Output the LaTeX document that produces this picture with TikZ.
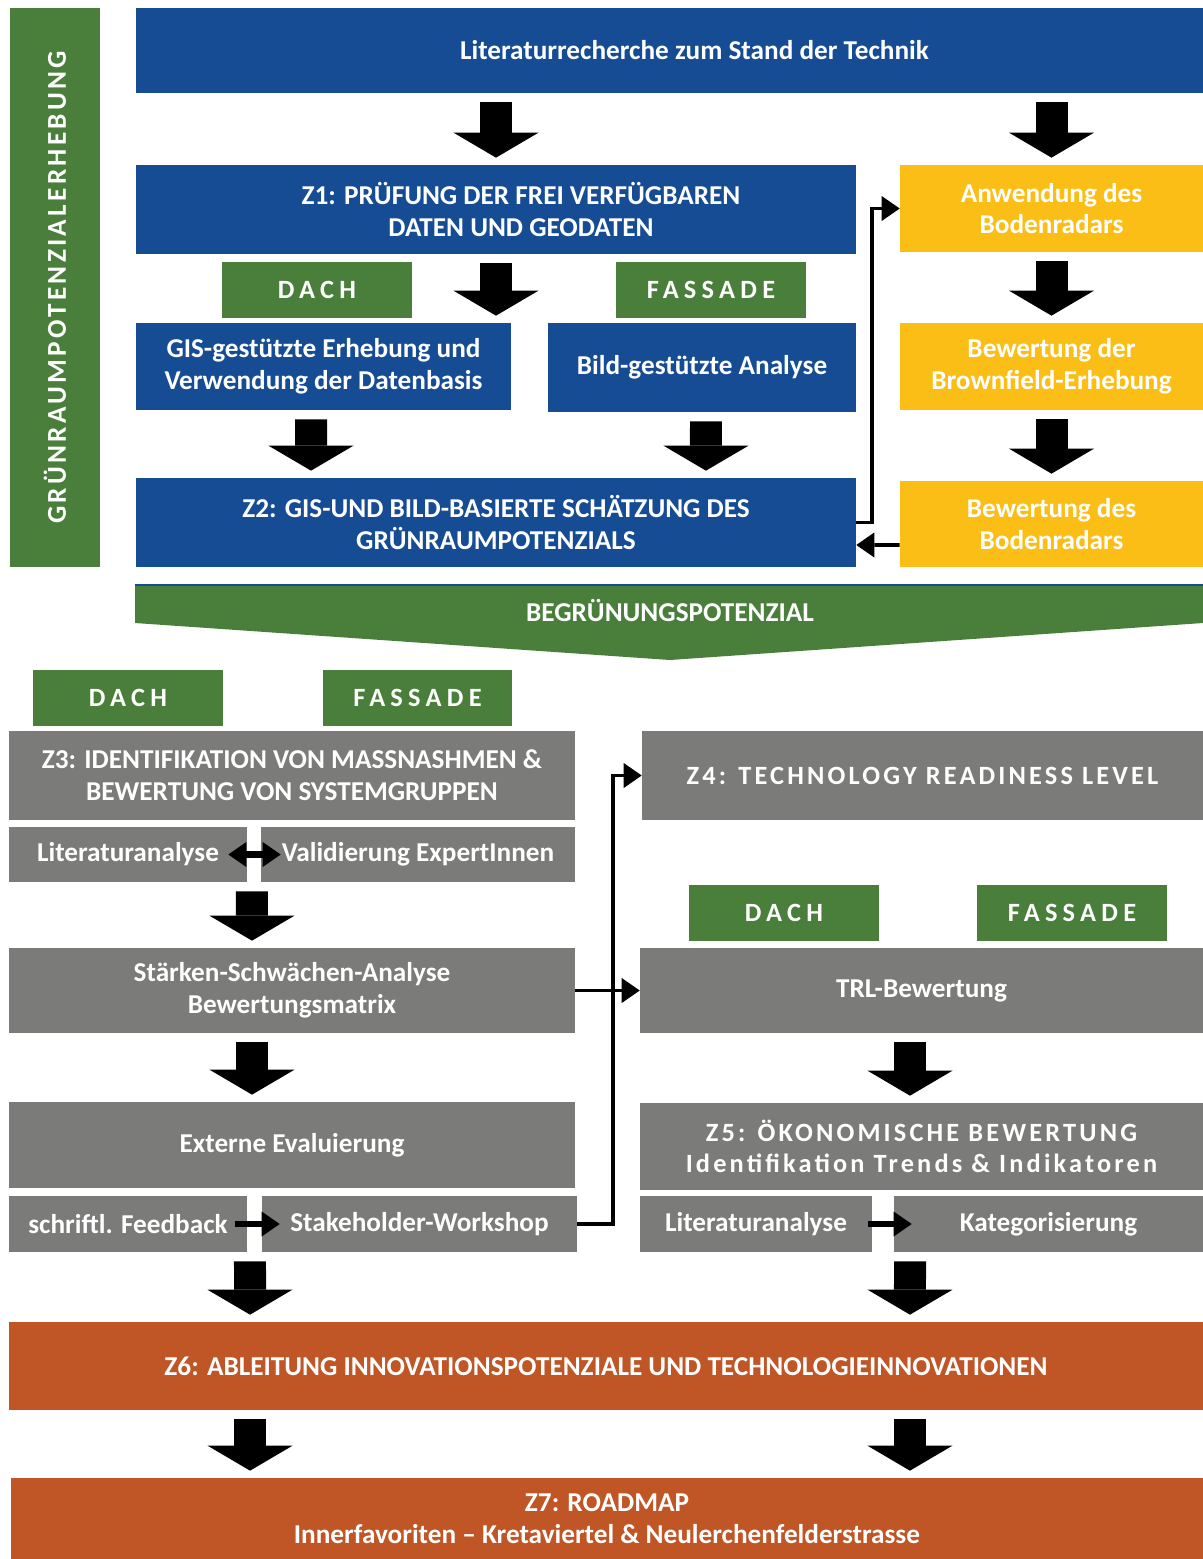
\documentclass[tikz,border=0pt]{standalone}
\usepackage{fontspec}
\setmainfont{Carlito}
\newfontfamily\spaced[LetterSpace=20]{Carlito}
\newfontfamily\wide[LetterSpace=12]{Carlito}
\usepackage{xcolor}
\usetikzlibrary{arrows.meta}

\definecolor{pblue}{RGB}{21,76,147}
\definecolor{pgreen}{RGB}{74,126,59}
\definecolor{pyellow}{RGB}{251,190,22}
\definecolor{pgray}{RGB}{123,123,121}
\definecolor{porange}{RGB}{192,85,38}

\tikzset{
  box/.style={fill=#1, text=white, font=\bfseries\fontsize{15.5}{18}\selectfont, align=center, inner sep=0pt},
  tag/.style={fill=pgreen, text=white, font=\spaced\bfseries\fontsize{15}{18}\selectfont, minimum width=3.8cm, minimum height=1.12cm, inner sep=0pt},
  Tri/.tip={Triangle[width=0.5cm,length=0.36cm,line width=0pt]},
  bigarrow/.style={line width=0.64cm, -{Triangle[width=1.7cm,length=0.5cm,line width=0pt]}, shorten <=0.18cm, shorten >=0.14cm},
  link/.style={line width=2.2pt, -Tri},
}

\begin{document}
\begin{tikzpicture}[x=0.02cm, y=-0.02cm]
    \fill[white] (0,0) rectangle (1203,1559);
    \useasboundingbox (0,0) rectangle (1203,1559);

    % side band
    \node[box=pgreen, rotate=90, minimum width=11.18cm, minimum height=1.8cm, font=\wide\bfseries\fontsize{15.5}{18}\selectfont] (band) at (55,287.5) {GRÜNRAUMPOTENZIALERHEBUNG};

    % Blue column
    \node[box=pblue, minimum width=21.34cm, minimum height=1.7cm] (lit) at (669.5,50.5) {\hspace*{1cm}Literaturrecherche zum Stand der Technik};
    \node[box=pblue, minimum width=14.4cm, minimum height=1.78cm] (z1) at (496,209.5) {\hspace*{1cm}Z1: PRÜFUNG DER FREI VERFÜGBAREN\\\hspace*{1cm}DATEN UND GEODATEN};
    \node[tag] (dachA) at (317,290) {DACH};
    \node[tag] (fassA) at (711,290) {FASSADE};
    \node[box=pblue, minimum width=7.5cm, minimum height=1.74cm] (gis) at (323.5,366.5) {GIS-gestützte Erhebung und\\Verwendung der Datenbasis};
    \node[box=pblue, minimum width=6.16cm, minimum height=1.78cm] (bild) at (702,367.5) {Bild-gestützte Analyse};
    \node[box=pblue, minimum width=14.4cm, minimum height=1.78cm] (z2) at (496,522.5) {Z2: GIS-UND BILD-BASIERTE SCHÄTZUNG DES\\GRÜNRAUMPOTENZIALS};

    % Yellow column
    \node[box=pyellow, minimum width=6.06cm, minimum height=1.74cm] (anw) at (1051.5,208.5) {Anwendung des\\Bodenradars};
    \node[box=pyellow, minimum width=6.06cm, minimum height=1.74cm] (brown) at (1051.5,366.5) {Bewertung der\\Brownfield-Erhebung};
    \node[box=pyellow, minimum width=6.06cm, minimum height=1.72cm] (boden) at (1051.5,524) {Bewertung des\\Bodenradars};

    % Arrows
    \draw[bigarrow] (lit.south -| z1.north) -- (z1.north);
    \draw[bigarrow] (lit.south -| anw.north) -- (anw.north);
    \draw[bigarrow] (z1.south) -- (z1.south |- gis.north);
    \draw[bigarrow] ([xshift=-0.25cm]gis.south) -- ([xshift=-3.7cm]z2.north);
    \draw[bigarrow] ([xshift=0.08cm]bild.south) -- ([xshift=4.2cm]z2.north);
    \draw[bigarrow] (anw.south) -- (brown.north);
    \draw[bigarrow] (brown.south) -- (boden.north);
    \draw[link] ([yshift=-0.42cm]boden.west) -- ([yshift=-0.45cm]z2.east);
    \draw[link] (z2.east) -- ++(16,0) |- (anw.west);

    % Begruenungspotenzial
    \fill[pgreen] (135,585) -- (1203,585) -- (1203,623) -- (670,660) -- (135,623) -- cycle;
    \draw[pblue, line width=0.8pt] (135,585) -- (1203,585);
    \node[text=white, font=\bfseries\fontsize{15.5}{18}\selectfont] (begr) at (670,611) {BEGRÜNUNGSPOTENZIAL};

    % Left gray column
    \node[tag] (dachB) at (128,698) {DACH};
    \node[tag] (fassB) at (417.5,698) {FASSADE};
    \node[box=pgray, minimum width=11.32cm, minimum height=1.78cm] (z3) at (292,775.5) {Z3: IDENTIFIKATION VON MASSNASHMEN \&\\BEWERTUNG VON SYSTEMGRUPPEN};
    \node[box=pgray, minimum width=4.76cm, minimum height=1.1cm] (litA) at (128,854.5) {Literaturanalyse};
    \node[box=pgray, minimum width=6.28cm, minimum height=1.1cm] (valid) at (418,854.5) {Validierung ExpertInnen};
    \node[box=pgray, minimum width=11.32cm, minimum height=1.7cm] (swot) at (292,990.5) {Stärken-Schwächen-Analyse\\Bewertungsmatrix};
    \node[box=pgray, minimum width=11.32cm, minimum height=1.72cm] (ext) at (292,1145) {Externe Evaluierung};
    \node[box=pgray, minimum width=4.76cm, minimum height=1.12cm] (feed) at (128,1224) {schriftl. Feedback};
    \node[box=pgray, minimum width=6.3cm, minimum height=1.12cm] (stake) at (419.5,1224) {Stakeholder-Workshop};

    % Right gray column
    \node[box=pgray, minimum width=11.22cm, minimum height=1.78cm, font=\wide\bfseries\fontsize{15}{18}\selectfont] (z4) at (922.5,775.5) {Z4: TECHNOLOGY READINESS LEVEL};
    \node[tag] (dachC) at (784,913) {DACH};
    \node[tag] (fassC) at (1072,913) {FASSADE};
    \node[box=pgray, minimum width=11.26cm, minimum height=1.7cm] (trl) at (921.5,990.5) {TRL-Bewertung};
    \node[box=pgray, minimum width=11.26cm, minimum height=1.74cm, font=\wide\bfseries\fontsize{15}{18}\selectfont] (z5) at (921.5,1146.5) {Z5: ÖKONOMISCHE BEWERTUNG\\Identifikation Trends \& Indikatoren};
    \node[box=pgray, minimum width=4.64cm, minimum height=1.12cm] (litB) at (756,1224) {Literaturanalyse};
    \node[box=pgray, minimum width=6.18cm, minimum height=1.12cm] (kat) at (1048.5,1224) {Kategorisierung};

    % Orange rows
    \node[box=porange, minimum width=23.88cm, minimum height=1.76cm] (z6) at (606,1366) {Z6: ABLEITUNG INNOVATIONSPOTENZIALE UND TECHNOLOGIEINNOVATIONEN};
    \node[box=porange, minimum width=23.84cm, minimum height=1.62cm] (z7) at (607,1518.5) {Z7: ROADMAP\\Innerfavoriten -- Kretaviertel \& Neulerchenfelderstrasse};

    % Arrows
    \draw[link, line width=3.5pt, Tri-Tri] ([xshift=-0.38cm]litA.east) -- ([xshift=0.4cm]valid.west);
    \draw[bigarrow] ([xshift=2.48cm]litA.south) -- ([xshift=-0.8cm]swot.north);
    \draw[bigarrow] ([xshift=-0.8cm]swot.south) -- ([xshift=-0.8cm]ext.north);
    \draw[link, line width=3pt] ([xshift=-0.24cm]feed.east) -- ([xshift=0.36cm]stake.west);
    \draw[link] (swot.east) -- (trl.west);
    \draw[link] (stake.east) -- ++(36,0) |- (z4.west);
    \draw[bigarrow] ([xshift=-0.23cm]trl.south) -- ([xshift=-0.23cm]z5.north);
    \draw[link, line width=3pt] ([xshift=-0.08cm]litB.east) -- ([xshift=0.36cm]kat.west);
    \draw[bigarrow] ([xshift=2.44cm]feed.south) -- ([xshift=-7.12cm]z6.north);
    \draw[bigarrow] ([xshift=-2.77cm]kat.south) -- ([xshift=6.08cm]z6.north);
    \draw[bigarrow] ([xshift=-7.12cm]z6.south) -- ([xshift=-7.14cm]z7.north);
    \draw[bigarrow] ([xshift=6.08cm]z6.south) -- ([xshift=6.06cm]z7.north);
\end{tikzpicture}
\end{document}
